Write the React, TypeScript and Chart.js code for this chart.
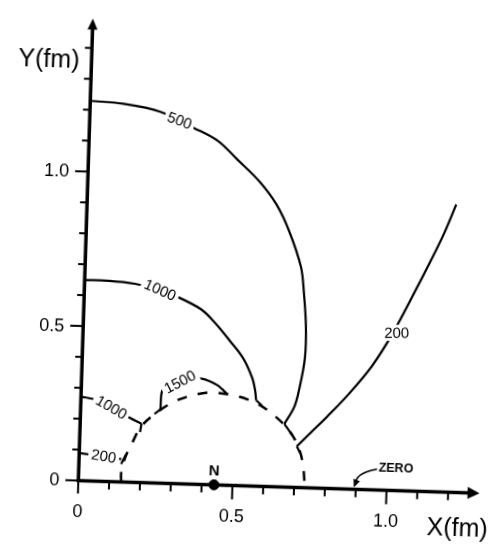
import React, { useEffect, useRef } from 'react';
import { Chart, registerables } from 'chart.js';

Chart.register(...registerables);

// ---- axis ranges (fm) ----
const X_MIN = -0.2342;
const X_MAX = 1.3259;
const Y_MIN = -0.2057;
const Y_MAX = 1.5348;
const X_AXIS_END = 1.302;
const Y_AXIS_END = 1.495;

// ---- tick values ----
const xTickValues = [0.1, 0.2, 0.3, 0.4, 0.5, 0.6, 0.7, 0.8, 0.9, 1.0, 1.1, 1.2];
const xLabelValues = [0, 0.5, 1.0];
const xTickLabels = ['0', '0.5', '1.0'];
const yTickValues = [0.1, 0.2, 0.3, 0.4, 0.5, 0.6, 0.7, 0.8, 0.9, 1.0, 1.1, 1.2, 1.3, 1.4];
const yLabelValues = [0, 0.5, 1.0];
const yTickLabels = ['0', '0.5', '1.0'];

// ---- contour lines (X, Y in fm) ----
const c500X = [0.0, 0.107, 0.228, 0.341, 0.418, 0.483, 0.558, 0.614, 0.658, 0.70, 0.712, 0.722, 0.722, 0.706, 0.692, 0.662];
const c500Y = [1.229, 1.223, 1.201, 1.151, 1.112, 1.054, 0.984, 0.913, 0.828, 0.713, 0.631, 0.523, 0.419, 0.314, 0.259, 0.204];

const c1000UpperX = [0.0, 0.08, 0.164, 0.235, 0.30, 0.381, 0.424, 0.479, 0.522, 0.553, 0.564, 0.568];
const c1000UpperY = [0.649, 0.649, 0.642, 0.627, 0.605, 0.566, 0.527, 0.465, 0.412, 0.35, 0.309, 0.278];

const c1000LowerX = [0.0, 0.05, 0.10, 0.155, 0.199];
const c1000LowerY = [0.272, 0.262, 0.241, 0.211, 0.19];

const c1500X = [0.259, 0.263, 0.30, 0.363, 0.388, 0.411, 0.443, 0.475];
const c1500Y = [0.239, 0.30, 0.33, 0.344, 0.342, 0.336, 0.321, 0.294];

const c200LowerX = [0.0, 0.137];
const c200LowerY = [0.089, 0.074];

const c200RightX = [1.197, 1.16, 1.11, 1.05, 1.0, 0.94, 0.87, 0.80, 0.75, 0.705];
const c200RightY = [0.931, 0.835, 0.725, 0.60, 0.50, 0.40, 0.31, 0.232, 0.18, 0.133];

// dashed boundary around N
const boundaryX = [0.139, 0.138, 0.149, 0.173, 0.197, 0.249, 0.305, 0.371, 0.428, 0.51, 0.575, 0.63, 0.678, 0.709, 0.726, 0.734];
const boundaryY = [0.0, 0.03, 0.078, 0.132, 0.18, 0.229, 0.266, 0.29, 0.298, 0.288, 0.265, 0.229, 0.183, 0.133, 0.077, 0.01];

// short end marks where contours meet the boundary
const endMarkX = [[0.662, 0.688], [0.568, 0.588], [0.705, 0.716], [0.199, 0.195], [0.137, 0.152], [0.259, 0.24]];
const endMarkY = [[0.204, 0.17], [0.278, 0.261], [0.133, 0.111], [0.19, 0.163], [0.058, 0.09], [0.239, 0.223]];

// nucleon N
const nX = [0.44];
const nY = [0.0];

// arrow pointing at the zero crossing
const zeroArrowX = [0.967, 0.926, 0.905, 0.896];
const zeroArrowY = [0.068, 0.054, 0.038, 0.012];

// contour labels
const labelTexts = ['500', '1000', '1000', '1500', '200', '200'];
const labelX = [0.292, 0.246, 0.10, 0.319, 0.08, 1.017];
const labelY = [1.175, 0.625, 0.241, 0.33, 0.082, 0.51];
const labelAngles = [18, 22, 28, -29, 8, -2];

const FONT = '"Liberation Sans", Arial, Helvetica, sans-serif';

function pts(xs: number[], ys: number[]) {
  return xs.map((x, i) => ({ x, y: ys[i] }));
}

const decorPlugin = {
  id: 'decor',
  afterDatasetsDraw(chart: any) {
    const { ctx } = chart;
    const xs = chart.scales.x;
    const ys = chart.scales.y;
    const px = (v: number) => xs.getPixelForValue(v);
    const py = (v: number) => ys.getPixelForValue(v);
    const ox = px(0);
    const oy = py(0);
    ctx.save();
    ctx.strokeStyle = '#000';
    ctx.fillStyle = '#000';

    // contour labels with white knock-out
    labelTexts.forEach((t, i) => {
      ctx.save();
      ctx.translate(px(labelX[i]), py(labelY[i]));
      ctx.rotate((labelAngles[i] * Math.PI) / 180);
      ctx.font = `15px ${FONT}`;
      const w = ctx.measureText(t).width;
      ctx.fillStyle = '#fff';
      ctx.fillRect(-w / 2 - 3, -8, w + 6, 16);
      ctx.fillStyle = '#000';
      ctx.textAlign = 'center';
      ctx.textBaseline = 'middle';
      ctx.fillText(t, 0, 1);
      ctx.restore();
    });

    // axes
    ctx.lineWidth = 3.5;
    const yTip = py(Y_AXIS_END);
    ctx.beginPath();
    ctx.moveTo(ox, oy + 1.5);
    ctx.lineTo(ox, yTip + 9);
    ctx.stroke();
    ctx.beginPath();
    ctx.moveTo(ox, yTip);
    ctx.lineTo(ox - 5, yTip + 11);
    ctx.lineTo(ox + 5, yTip + 11);
    ctx.closePath();
    ctx.fill();

    const xTip = px(X_AXIS_END);
    ctx.beginPath();
    ctx.moveTo(ox - 1.5, oy);
    ctx.lineTo(xTip - 10, oy);
    ctx.stroke();
    ctx.beginPath();
    ctx.moveTo(xTip, oy);
    ctx.lineTo(xTip - 12, oy - 6);
    ctx.lineTo(xTip - 12, oy + 6);
    ctx.closePath();
    ctx.fill();

    // ticks
    ctx.lineWidth = 2;
    yTickValues.forEach((v) => {
      const major = yLabelValues.some((m) => Math.abs(m - v) < 1e-6);
      const len = major ? 13 : 7;
      ctx.beginPath();
      ctx.moveTo(ox, py(v));
      ctx.lineTo(ox - len, py(v));
      ctx.stroke();
    });
    ctx.beginPath();
    ctx.moveTo(ox, oy);
    ctx.lineTo(ox - 13, oy);
    ctx.stroke();
    xTickValues.forEach((v) => {
      const major = xLabelValues.some((m) => Math.abs(m - v) < 1e-6);
      const len = major ? 14 : 8;
      ctx.beginPath();
      ctx.moveTo(px(v), oy);
      ctx.lineTo(px(v), oy + len);
      ctx.stroke();
    });
    ctx.beginPath();
    ctx.moveTo(ox, oy);
    ctx.lineTo(ox, oy + 13);
    ctx.stroke();

    // tick labels
    ctx.font = `18px ${FONT}`;
    ctx.textBaseline = 'middle';
    ctx.textAlign = 'right';
    yLabelValues.forEach((v, i) => ctx.fillText(yTickLabels[i], ox - 19, py(v) + 1));
    ctx.textAlign = 'center';
    xLabelValues.forEach((v, i) => ctx.fillText(xTickLabels[i], px(v), oy + 32));

    // axis titles
    ctx.font = `25px ${FONT}`;
    ctx.textAlign = 'center';
    ctx.fillText('Y(fm)', px(-0.138), py(1.358));
    ctx.fillText('X(fm)', px(1.233), py(-0.12));

    // N label
    ctx.font = `bold 15px ${FONT}`;
    ctx.fillText('N', px(0.439), py(0.045));

    // ZERO label and arrowhead
    ctx.font = `bold 12.5px ${FONT}`;
    ctx.textAlign = 'left';
    ctx.fillText('ZERO', px(0.972), py(0.072));
    const n = zeroArrowX.length;
    const ax = px(zeroArrowX[n - 1]);
    const ay = py(zeroArrowY[n - 1]);
    const bx = px(zeroArrowX[n - 2]);
    const by = py(zeroArrowY[n - 2]);
    const ang = Math.atan2(ay - by, ax - bx);
    ctx.save();
    ctx.translate(ax, ay);
    ctx.rotate(ang);
    ctx.beginPath();
    ctx.moveTo(2, 0);
    ctx.lineTo(-6, -3.5);
    ctx.lineTo(-6, 3.5);
    ctx.closePath();
    ctx.fill();
    ctx.restore();

    ctx.restore();
  },
};

export default function App() {
  const ref = useRef<HTMLCanvasElement>(null);

  useEffect(() => {
    const line = {
      showLine: true,
      pointRadius: 0,
      borderColor: '#000',
      backgroundColor: '#000',
      borderWidth: 2.2,
      tension: 0.35,
      fill: false,
    };
    const datasets: any[] = [
      { ...line, label: '500', data: pts(c500X, c500Y) },
      { ...line, label: '1000 upper', data: pts(c1000UpperX, c1000UpperY) },
      { ...line, label: '1000 lower', data: pts(c1000LowerX, c1000LowerY) },
      { ...line, label: '1500', data: pts(c1500X, c1500Y), tension: 0.25 },
      { ...line, label: '200 lower', data: pts(c200LowerX, c200LowerY) },
      { ...line, label: '200 right', data: pts(c200RightX, c200RightY) },
      { ...line, label: 'boundary', data: pts(boundaryX, boundaryY), borderDash: [10, 11], borderWidth: 2.5 },
      ...endMarkX.map((xs, i) => ({ ...line, label: 'mark' + i, data: pts(xs, endMarkY[i]), tension: 0 })),
      { ...line, label: 'zero arrow', data: pts(zeroArrowX, zeroArrowY), borderWidth: 1.6, tension: 0.4 },
      { label: 'N', data: pts(nX, nY), showLine: false, pointRadius: 5, backgroundColor: '#000', borderColor: '#000' },
    ];
    const chart = new Chart(ref.current as HTMLCanvasElement, {
      type: 'scatter',
      data: { datasets },
      options: {
        animation: false,
        responsive: false,
        devicePixelRatio: 1,
        layout: { padding: 0 },
        plugins: { legend: { display: false }, tooltip: { enabled: false } },
        scales: {
          x: { type: 'linear', min: X_MIN, max: X_MAX, display: false },
          y: { type: 'linear', min: Y_MIN, max: Y_MAX, display: false },
        },
      },
      plugins: [decorPlugin],
    });
    return () => chart.destroy();
  }, []);

  return (
    <div style={{ position: 'absolute', left: 0, top: 0, width: 493, height: 550, background: '#fff', overflow: 'hidden' }}>
      <canvas
        ref={ref}
        width={493}
        height={550}
        style={{ width: 493, height: 550, display: 'block', transform: 'rotate(1.8deg)', transformOrigin: '74px 485px' }}
      />
    </div>
  );
}
